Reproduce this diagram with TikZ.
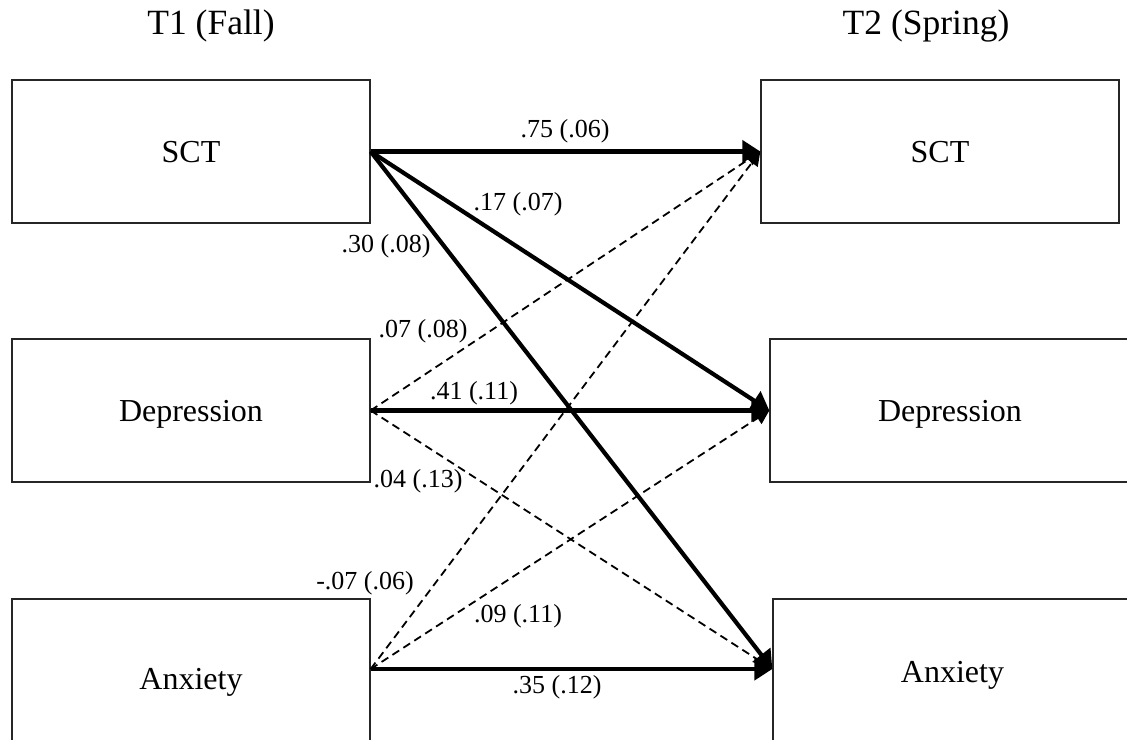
\documentclass[tikz,border=0pt]{standalone}
\usepackage{fontspec}
\setmainfont{Liberation Serif}
\usetikzlibrary{arrows.meta}
\begin{document}
\begin{tikzpicture}[x=1pt,y=-1pt,
  box/.style={draw=black!85, line width=1.3pt, rectangle, inner sep=0pt,
    minimum width=358pt, minimum height=143pt,
    font=\fontsize{32}{36}\selectfont, text height=21pt, text depth=0pt},
  ttl/.style={font=\fontsize{35.5}{40}\selectfont, inner sep=0pt},
  lbl/.style={font=\fontsize{26}{30}\selectfont, inner sep=0pt},
  strong/.style={line width=4.2pt, -{Triangle[length=18pt,width=22pt]}},
  weak/.style={line width=1.8pt, dash pattern=on 8pt off 5pt, -{Triangle[length=14pt,width=14pt]}},
]
\useasboundingbox (0,0) rectangle (1127,739);
\clip (0,0) rectangle (1127,739);

% titles
\node[ttl] (t1) at (211,26) {T1 (Fall)};
\node[ttl] (t2) at (926,26) {T2 (Spring)};

% boxes
\node[box] (L1) at (191,151.5) {SCT};
\node[box] (L2) at (191,410.5) {Depression};
\node[box, minimum height=160pt] (L3) at (191,679) {Anxiety};
\node[box] (R1) at (940,151.5) {SCT};
\node[box, minimum width=360pt] (R2) at (950,410.5) {Depression};
\node[box, minimum width=359pt, minimum height=146pt] (R3) at (952.5,672) {Anxiety};

\coordinate (a3) at ([yshift=10pt]L3.east);
\coordinate (b3) at ([yshift=3pt]R3.west);

% dashed paths
\draw[weak] (L2.east) -- (R1.west);
\draw[weak] (a3) -- (R1.west);
\draw[weak] (L2.east) -- (b3);
\draw[weak] (a3) -- (R2.west);

% solid paths
\draw[strong] (L1.east) -- (R1.west);
\draw[strong] (L1.east) -- (R2.west);
\draw[strong] (L1.east) -- (b3);
\draw[strong] (L2.east) -- (R2.west);
\draw[strong] (a3) -- (b3);

% labels
\node[lbl] (p11) at (565,131) {.75 (.06)};
\node[lbl] (p12) at (518,204) {.17 (.07)};
\node[lbl] (p13) at (386,246) {.30 (.08)};
\node[lbl] (p21) at (423,331) {.07 (.08)};
\node[lbl] (p22) at (474,393) {.41 (.11)};
\node[lbl] (p23) at (418,481) {.04 (.13)};
\node[lbl] (p31) at (365,583) {-.07 (.06)};
\node[lbl] (p32) at (518,616) {.09 (.11)};
\node[lbl] (p33) at (557,687) {.35 (.12)};
\end{tikzpicture}
\end{document}
